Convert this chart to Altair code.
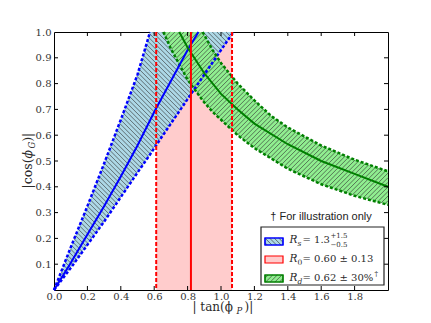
import numpy as np
import altair as alt
import pandas as pd

W, H = 334, 258

# ---------------- data ----------------
blue_x = [0, 0.1, 0.2, 0.3, 0.4, 0.5, 0.575, 0.6, 0.7, 0.8, 0.9, 1.0, 1.075]
blue_hi = [0, 0.165, 0.325, 0.49, 0.66, 0.835, 1.0, 1.0, 1.0, 1.0, 1.0, 1.0, 1.0]
blue_lo = [0, 0.085, 0.175, 0.265, 0.36, 0.455, 0.525, 0.55, 0.645, 0.74, 0.835, 0.93, 1.0]
blue_up_edge_x = [0, 0.1, 0.2, 0.3, 0.4, 0.5, 0.575]
blue_up_edge_y = [0, 0.165, 0.325, 0.49, 0.66, 0.835, 1.0]
blue_mid_x = [0, 0.1, 0.2, 0.3, 0.4, 0.5, 0.6, 0.7, 0.8, 0.865]
blue_mid_y = [0, 0.105, 0.215, 0.325, 0.44, 0.56, 0.69, 0.81, 0.93, 1.0]

green_x = [0.655, 0.7, 0.8, 0.89, 0.95, 1.0, 1.1, 1.2, 1.3, 1.4, 1.6, 1.8, 2.0]
green_hi = [1.0, 1.0, 1.0, 1.0, 0.93, 0.88, 0.80, 0.735, 0.675, 0.63, 0.56, 0.505, 0.46]
green_lo = [1.0, 0.935, 0.815, 0.735, 0.69, 0.66, 0.60, 0.55, 0.51, 0.47, 0.41, 0.365, 0.33]
green_up_edge_x = [0.89, 0.95, 1.0, 1.1, 1.2, 1.3, 1.4, 1.6, 1.8, 2.0]
green_up_edge_y = [1.0, 0.93, 0.88, 0.80, 0.735, 0.675, 0.63, 0.56, 0.505, 0.46]
green_mid_x = [0.75, 0.8, 0.9, 1.0, 1.1, 1.2, 1.4, 1.6, 1.8, 2.0]
green_mid_y = [1.0, 0.94, 0.84, 0.76, 0.70, 0.645, 0.565, 0.50, 0.45, 0.40]

red_center = [0.82]
red_bounds = [0.612, 1.066]

x_ticks = [0.0, 0.2, 0.4, 0.6, 0.8, 1.0, 1.2, 1.4, 1.6, 1.8]
y_ticks = [0.1, 0.2, 0.3, 0.4, 0.5, 0.6, 0.7, 0.8, 0.9, 1.0]

# ---------------- helpers ----------------
SERIF = "DejaVu Serif"
xscale = alt.Scale(domain=[0, 2], nice=False, zero=False)
yscale = alt.Scale(domain=[0, 1], nice=False, zero=False)
xaxis = alt.Axis(values=x_ticks, format=".1f", title=None, labelFlush=False, labelPadding=1.5)
yaxis = alt.Axis(values=y_ticks, format=".1f", title=None, labelFlush=False, labelPadding=3)


def X(f):
    return alt.X(f, type="quantitative", scale=xscale, axis=xaxis)


def Y(f):
    return alt.Y(f, type="quantitative", scale=yscale, axis=yaxis)


def hatch_segments(xs, hi, lo, kind, period=4.6):
    """Hatch lines (45 degrees on screen) clipped to the band lo..hi, returned in data units."""
    xf = np.linspace(min(xs), max(xs), 4000)
    px = xf * W / 2
    phi = np.interp(xf, xs, hi) * H
    plo = np.interp(xf, xs, lo) * H
    rows = []
    if kind == "back":
        cs = np.arange(px.min() + plo.min() + period / 2, px.max() + H, period)
    else:
        cs = np.arange(px.min() - H + period / 2, px.max(), period)
    for c in cs:
        yl = c - px if kind == "back" else px - c
        inside = np.where((yl >= plo - 1e-9) & (yl <= phi + 1e-9))[0]
        if len(inside) < 2:
            continue
        i0, i1 = inside[0], inside[-1]
        rows.append({"x0": px[i0] * 2 / W, "y0": yl[i0] / H, "x1": px[i1] * 2 / W, "y1": yl[i1] / H})
    return pd.DataFrame(rows)


def hatch_layer(df):
    return alt.Chart(df).mark_rule(color="#333333", strokeWidth=0.65).encode(
        x=X("x0"), x2="x1", y=Y("y0"), y2="y1")


dummy = pd.DataFrame({"d": [0]})


def txt(s, x, y, size=12, style="normal", font=SERIF, align="left", angle=0, color="#2a2a2a"):
    return alt.Chart(dummy).mark_text(
        text=s, fontSize=size, fontStyle=style, font=font, align=align,
        baseline="alphabetic", angle=angle, color=color,
    ).encode(x=alt.value(x), y=alt.value(y))


def box(x1, y1, x2, y2, fill, stroke, sw=1.0):
    return alt.Chart(dummy).mark_rect(fill=fill, stroke=stroke, strokeWidth=sw).encode(
        x=alt.value(x1), x2=alt.value(x2), y=alt.value(y1), y2=alt.value(y2))


def swatch_hatch(x1, y1, x2, y2, kind):
    # pixel rectangle -> data units, then same hatch routine
    xs = [x1 * 2 / W, x2 * 2 / W]
    top = (H - y1) / H
    bot = (H - y2) / H
    return hatch_layer(hatch_segments(xs, [top, top], [bot, bot], kind))


# ---------------- data frames ----------------
blue_df = pd.DataFrame({"x": blue_x, "hi": blue_hi, "lo": blue_lo})
green_df = pd.DataFrame({"x": green_x, "hi": green_hi, "lo": green_lo})
blue_up = pd.DataFrame({"x": blue_up_edge_x, "y": blue_up_edge_y})
blue_low = pd.DataFrame({"x": blue_x, "y": blue_lo})
blue_mid = pd.DataFrame({"x": blue_mid_x, "y": blue_mid_y})
green_up = pd.DataFrame({"x": green_up_edge_x, "y": green_up_edge_y})
green_low = pd.DataFrame({"x": green_x, "y": green_lo})
green_mid = pd.DataFrame({"x": green_mid_x, "y": green_mid_y})
red_band = pd.DataFrame({"lo": [red_bounds[0]], "hi": [red_bounds[1]]})
red_dash = pd.DataFrame({"x": red_bounds})
red_line = pd.DataFrame({"x": red_center})
xt = pd.DataFrame({"v": x_ticks[1:]})
yt = pd.DataFrame({"v": y_ticks[:-1]})

LBLUE, LGREEN, PINK = "#add8e6", "#90ee90", "#ffcccc"
BLUE, GREEN, RED = "#0000ff", "#008000", "#ff0000"

layers = []
layers.append(alt.Chart(red_band).mark_rect(fill=PINK).encode(
    x=X("lo"), x2="hi", y=alt.value(0), y2=alt.value(H)))
layers.append(alt.Chart(blue_df).mark_area(fill=LBLUE, opacity=1).encode(
    x=X("x"), y=Y("hi"), y2="lo"))
layers.append(hatch_layer(hatch_segments(blue_x, blue_hi, blue_lo, "back")))
layers.append(alt.Chart(green_df).mark_area(fill=LGREEN, opacity=1).encode(
    x=X("x"), y=Y("hi"), y2="lo"))
layers.append(hatch_layer(hatch_segments(green_x, green_hi, green_lo, "fwd")))
for df, col in [(blue_up, BLUE), (blue_low, BLUE), (green_up, GREEN), (green_low, GREEN)]:
    layers.append(alt.Chart(df).mark_line(color=col, strokeWidth=2.5, strokeDash=[3, 2]).encode(
        x=X("x"), y=Y("y")))
layers.append(alt.Chart(blue_mid).mark_line(color=BLUE, strokeWidth=2).encode(x=X("x"), y=Y("y")))
layers.append(alt.Chart(green_mid).mark_line(color=GREEN, strokeWidth=2).encode(x=X("x"), y=Y("y")))
layers.append(alt.Chart(red_dash).mark_rule(color=RED, strokeWidth=2, strokeDash=[4, 2]).encode(
    x=X("x"), y=alt.value(0), y2=alt.value(H)))
layers.append(alt.Chart(red_line).mark_rule(color=RED, strokeWidth=2).encode(
    x=X("x"), y=alt.value(0), y2=alt.value(H)))
# inward ticks on all four sides
layers.append(alt.Chart(xt).mark_rule(color="black", strokeWidth=1).encode(
    x=X("v"), y=alt.value(H), y2=alt.value(H - 4)))
layers.append(alt.Chart(xt).mark_rule(color="black", strokeWidth=1).encode(
    x=X("v"), y=alt.value(0), y2=alt.value(4)))
layers.append(alt.Chart(yt).mark_rule(color="black", strokeWidth=1).encode(
    y=Y("v"), x=alt.value(0), x2=alt.value(4)))
layers.append(alt.Chart(yt).mark_rule(color="black", strokeWidth=1).encode(
    y=Y("v"), x=alt.value(W), x2=alt.value(W - 4)))

# axis titles
layers += [
    txt("| tan(ϕ", 138.5, 279),
    txt("P", 182.5, 281.5, size=8.5, style="italic"),
    txt(")|", 190.5, 279),
    txt("|cos(", -22.5, 156.5, size=12.5, angle=270),
    txt("ϕ", -22.5, 126.4, size=12.5, style="italic", angle=270),
    txt("G", -19.5, 116.4, size=8.5, style="italic", angle=270),
    txt(")|", -22.5, 109.8, size=12.5, angle=270),
]

# legend
layers.append(txt("† For illustration only", 267, 188, size=11, font="Liberation Sans", align="center",
                  color="#222"))
layers.append(box(207, 195, 330, 253, "white", "#222", 1.2))
layers.append(box(211, 206, 229, 213, LBLUE, BLUE, 1.2))
layers.append(swatch_hatch(211, 206, 229, 213, "back"))
layers.append(box(211, 206, 229, 213, "transparent", BLUE, 1.2))
layers.append(box(211, 224, 229, 231, PINK, RED, 1.2))
layers.append(box(211, 243, 229, 250, LGREEN, GREEN, 1.2))
layers.append(swatch_hatch(211, 243, 229, 250, "fwd"))
layers.append(box(211, 243, 229, 250, "transparent", GREEN, 1.2))
layers += [
    txt("R", 235.5, 211, size=10.5, style="italic"),
    txt("s", 243.5, 213.5, size=7.5, style="italic"),
    txt("= 1.3", 248.5, 211, size=10),
    txt("+1.5", 276.5, 205.5, size=7),
    txt("−0.5", 276.5, 214.5, size=7),
    txt("R", 235.5, 229.7, size=10.5, style="italic"),
    txt("0", 243.5, 232.5, size=7.5),
    txt("= 0.60 ± 0.13", 248.5, 229.7, size=10),
    txt("R", 235.5, 249, size=10.5, style="italic"),
    txt("d", 243.5, 251.5, size=7.5, style="italic"),
    txt("= 0.62 ± 30%", 248.5, 249, size=10),
    txt("†", 320.5, 244, size=7),
]

chart = alt.layer(*layers).properties(
    width=W, height=H,
    autosize=alt.AutoSizeParams(type="none"),
    padding={"left": 46, "top": 24, "right": 35, "bottom": 25},
).configure_view(stroke="black", strokeWidth=1).configure_axis(
    ticks=False, tickSize=0, domain=False, grid=False, labelFont=SERIF, labelFontSize=10,
    labelColor="#333",
)

chart.save("out.html", embed_options={"renderer": "svg", "actions": False})
